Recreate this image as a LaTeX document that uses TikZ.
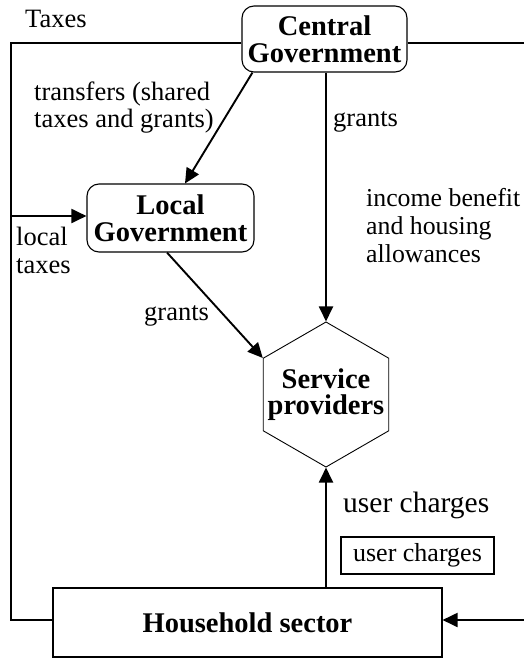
\documentclass[tikz,border=0pt]{standalone}
\usepackage{fontspec}
\setmainfont{Liberation Serif}
\usetikzlibrary{arrows.meta,shapes.geometric}
\begin{document}
\begin{tikzpicture}[x=1pt,y=-1pt,
  line/.style={line width=1.9pt},
  flow/.style={line width=1.9pt,-{Triangle[length=15pt,width=14pt]}},
  boldtext/.style={font=\bfseries\fontsize{28.5}{27}\selectfont},
  govbox/.style={draw,line width=1.1pt,rounded corners=12pt,align=center,
    inner sep=0pt,boldtext},
  plainbox/.style={draw,line width=1.1pt,inner sep=0pt},
  hexbox/.style={draw,line width=0.9pt,regular polygon,regular polygon sides=6,
    shape border rotate=30,minimum size=145pt,inner sep=-30pt,align=center,
    font=\bfseries\fontsize{28.5}{25.5}\selectfont},
  lbl/.style={align=left,inner sep=0pt,anchor=base west,
    font=\fontsize{26.5}{27.8}\selectfont}]
\useasboundingbox (0,0) rectangle (523,658);

% organisations
\node[govbox,minimum width=165pt,minimum height=66pt] (cg) at (324.5,39) {Central\\Government};
\node[govbox,minimum width=167pt,minimum height=68pt] (lg) at (170.5,218) {Local\\Government};
\node[hexbox] (sp) at (326,394.5) {Service\\providers};
\node[plainbox,minimum width=389pt,minimum height=69pt,boldtext] (hh) at (247.5,622.5) {Household sector};
\node[plainbox,minimum width=153pt,minimum height=37pt,
  font=\fontsize{26}{26}\selectfont] (uc) at (417.5,555.5) {user charges};

% corners of the tax loop
\coordinate (tl) at (11,43);
\coordinate (bl) at (11,620);
\coordinate (lt) at (11,216);
\coordinate (tr) at (526,43);
\coordinate (br) at (526,620);

% connectors
\draw[line] (cg.west |- tl) -- (tl) -- (bl) -- (hh.west |- bl);
\draw[line] (cg.east |- tr) -- (tr);
\draw[flow] (br) -- (br -| hh.east);
\draw[flow] (lt) -- (lt -| lg.west);
\draw[flow] ([xshift=11pt]cg.south west) -- ([xshift=14.5pt]lg.north);
\draw[flow] (cg.south -| sp.90) -- (sp.90);
\draw[flow] ([xshift=-3.5pt]lg.south) -- (sp.150);
\draw[flow] (hh.north -| sp.270) -- (sp.270);

% labels
\node[lbl] (taxes) at (25,28) {Taxes};
\node[lbl] (tr1) at (34,128) {transfers (shared\\taxes and grants)};
\node[lbl] (gr1) at (333,127) {grants};
\node[lbl] (lt1) at (16,273) {local\\taxes};
\node[lbl,font=\fontsize{25.8}{27.8}\selectfont] (ib) at (366,262) {income benefit\\and housing\\allowances};
\node[lbl] (gr2) at (144,320) {grants};
\node[lbl,font=\fontsize{29.5}{30}\selectfont] (uc1) at (343,512) {user charges};
\end{tikzpicture}
\end{document}
